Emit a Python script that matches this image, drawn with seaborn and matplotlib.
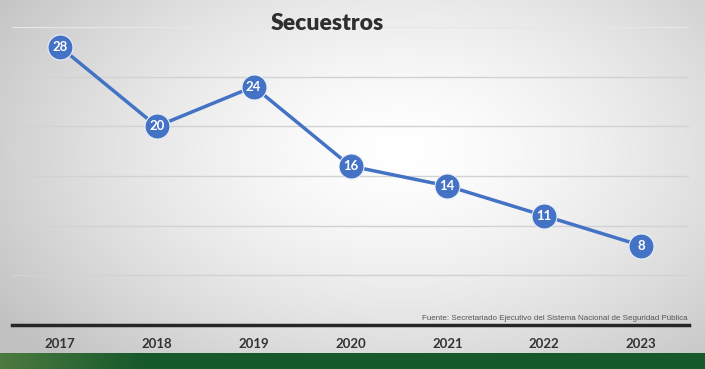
import numpy as np
import pandas as pd
import matplotlib
matplotlib.use("Agg")
import matplotlib.pyplot as plt
import seaborn as sns

years = ["2017", "2018", "2019", "2020", "2021", "2022", "2023"]
values = [28, 20, 24, 16, 14, 11, 8]
title = "Secuestros"
source = "Fuente: Secretariado Ejecutivo del Sistema Nacional de Seguridad Pública"

sns.set_theme(style="white")
plt.rcParams['font.family'] = ['Lato', 'DejaVu Sans']

W, H = 705, 369
fig = plt.figure(figsize=(W / 100, H / 100), dpi=100)

# background radial gradient
bg = fig.add_axes([0, 0, 1, 1], zorder=-10)
yy, xx = np.mgrid[0:H, 0:W]
d = np.sqrt(((xx - 400) / 480.0) ** 2 + ((yy - 150) / 300.0) ** 2)
g = np.clip(1.0 - 0.24 * d ** 1.5, 0.76, 1.0)
img = np.dstack([g, g, g])
# green band at bottom
band_top = 353
t = np.linspace(0, 1, W)
gr = np.clip((t - 0.0) / 0.2, 0, 1)
r = 0.30 * (1 - gr) + 0.09 * gr
gg = 0.48 * (1 - gr) + 0.35 * gr
b = 0.25 * (1 - gr) + 0.17 * gr
img[band_top:, :, 0] = r
img[band_top:, :, 1] = gg
img[band_top:, :, 2] = b
bg.imshow(img, aspect="auto", extent=[0, W, H, 0])
bg.axis("off")

ax = fig.add_axes([11.6 / W, 44 / H, (689.4 - 11.6) / W, (325 - 27) / H])
ax.patch.set_alpha(0)

df = pd.DataFrame({"year": years, "value": values})
x = np.arange(len(years))
df["x"] = x
sns.lineplot(data=df, x="x", y="value", ax=ax, color="#4472C4", linewidth=2.5,
             marker="o", markersize=18, markerfacecolor="#4472C4",
             markeredgecolor="#e8eef8", markeredgewidth=0.8, zorder=5)
for xi, v in zip(x, values):
    ax.text(xi, v, str(v), ha="center", va="center", color="white",
            fontsize=9.5, fontweight="bold", zorder=6)

ax.set_xlim(-0.5, len(years) - 0.5)
ax.set_ylim(0, 30)
ax.set_yticks([5, 10, 15, 20, 25])
ax.yaxis.grid(True, color="#d2d2d2", linewidth=1)
ax.axhline(30, color="#e6e6e6", linewidth=1, zorder=0)
ax.xaxis.grid(False)
ax.set_yticklabels([])
ax.tick_params(axis="y", length=0)
ax.set_xticks(x)
ax.set_xticklabels(years, fontsize=9.5, fontweight="bold", color="#333333")
ax.tick_params(axis="x", length=0, pad=9)
ax.set_xlabel("")
ax.set_ylabel("")
for s in ["left", "right", "top"]:
    ax.spines[s].set_visible(False)
ax.spines["bottom"].set_color("#262626")
ax.spines["bottom"].set_linewidth(2.5)

fig.text(327 / W, 1 - 23 / H, title, ha="center", va="center", fontsize=16.5,
         fontweight="heavy", color="#2e2e2e")
fig.text(688 / W, 1 - 318 / H, source, ha="right", va="center", fontsize=5.8,
         color="#555555", family=["Liberation Sans", "DejaVu Sans"])

fig.savefig("out.png", dpi=100)
